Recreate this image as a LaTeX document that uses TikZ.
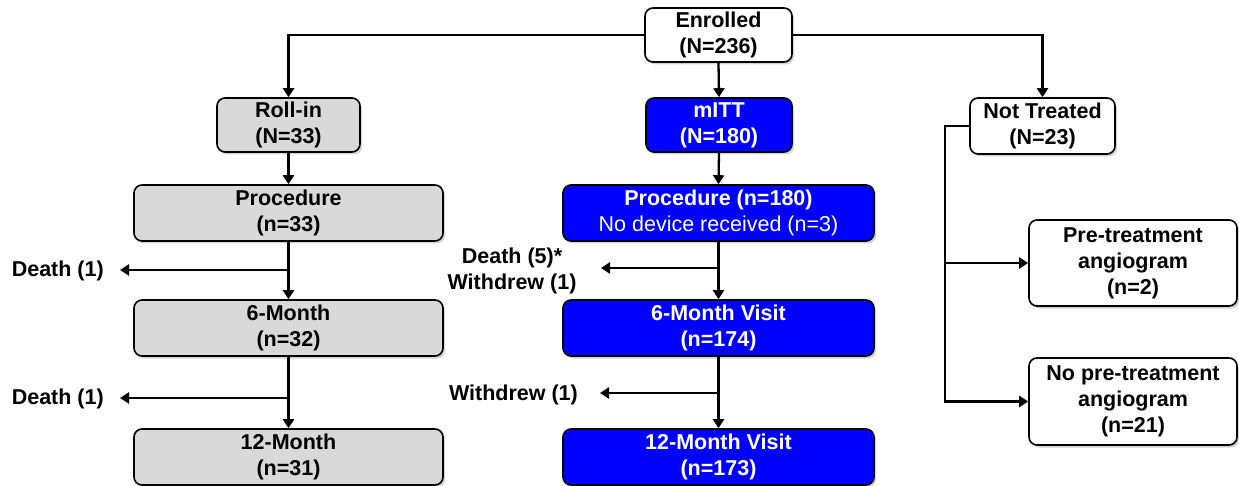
\documentclass[tikz,border=0pt]{standalone}
\usepackage{fontspec}
\setmainfont{Liberation Sans}
\usetikzlibrary{arrows.meta,shadows}
\definecolor{boxgray}{HTML}{D9D9D9}
\definecolor{boxblue}{HTML}{0000FF}
\begin{document}
\begin{tikzpicture}[x=1pt,y=-1pt,
  every node/.style={font=\fontsize{21.5}{26}\selectfont\bfseries, align=center},
  base/.style={draw=black, line width=1.6pt, rounded corners=8pt, inner sep=0pt,
    drop shadow={shadow xshift=2pt, shadow yshift=-2.5pt, opacity=0.35}},
  whitebox/.style={base, fill=white},
  graybox/.style={base, fill=boxgray},
  bluebox/.style={base, fill=boxblue, text=white},
  conn/.style={draw=black, line width=2.3pt},
  arr/.style={conn, -{Triangle[length=9pt,width=11pt]}},
  lbl/.style={inner sep=0pt}
]
\useasboundingbox (0,0) rectangle (1239,486);
% boxes
\node[whitebox, minimum width=147pt, minimum height=54pt] (enr) at (718.5,35) {Enrolled\\(N=236)};
\node[graybox, minimum width=143pt, minimum height=54pt] (roll) at (288.5,125) {Roll-in\\(N=33)};
\node[bluebox, minimum width=146pt, minimum height=54pt] (mitt) at (719,125) {mITT\\(N=180)};
\node[whitebox, minimum width=145pt, minimum height=56pt] (nt) at (1042.5,126) {Not Treated\\(N=23)};

\node[graybox, minimum width=309pt, minimum height=56pt] (procL) at (288.5,213) {Procedure\\(n=33)};
\node[bluebox, minimum width=311pt, minimum height=56pt] (procR) at (718.5,213) {Procedure (n=180)\\{\mdseries No device received (n=3)}};

\node[graybox, minimum width=309pt, minimum height=56pt] (sixL) at (288.5,328) {6-Month\\(n=32)};
\node[bluebox, minimum width=311pt, minimum height=56pt] (sixR) at (718.5,328) {6-Month Visit\\(n=174)};

\node[graybox, minimum width=309pt, minimum height=56pt] (twL) at (288.5,457) {12-Month\\(n=31)};
\node[bluebox, minimum width=311pt, minimum height=56pt] (twR) at (718.5,457) {12-Month Visit\\(n=173)};

\node[whitebox, minimum width=208pt, minimum height=86pt] (pre) at (1133,263) {Pre-treatment\\angiogram\\(n=2)};
\node[whitebox, minimum width=208pt, minimum height=87pt] (nopre) at (1133,401.5) {No pre-treatment\\angiogram\\(n=21)};

% labels
\node[lbl, anchor=east] (d1) at (104,271) {Death (1)};
\node[lbl, anchor=east] (d2) at (104,399) {Death (1)};
\node[lbl] (dw) at (512,271) {Death (5)*\\Withdrew (1)};
\node[lbl, anchor=east] (w2) at (578,395) {Withdrew (1)};

% coordinates
\coordinate (tl) at (288.5,35);
\coordinate (tr) at (1042.5,35);
\coordinate (bL1) at (288.5,270);
\coordinate (eL1) at (120,270);
\coordinate (bL2) at (288.5,398);
\coordinate (eL2) at (120,398);
\coordinate (bR1) at (718.5,268);
\coordinate (eR1) at (601,268);
\coordinate (bR2) at (718.5,393);
\coordinate (eR2) at (600,393);
\coordinate (ntc) at (945,126);
\coordinate (ntp) at (945,263);
\coordinate (ntn) at (945,401.5);

% connectors
\draw[arr] (enr.west) -- (tl) -- (roll.north);
\draw[arr] (enr.east) -- (tr) -- (nt.north);
\draw[arr] (enr.south) -- (mitt.north);
\draw[arr] (roll.south) -- (procL.north);
\draw[arr] (mitt.south) -- (procR.north);
\draw[arr] (procL.south) -- (sixL.north);
\draw[arr] (sixL.south) -- (twL.north);
\draw[arr] (procR.south) -- (sixR.north);
\draw[arr] (sixR.south) -- (twR.north);
\draw[arr] (bL1) -- (eL1);
\draw[arr] (bL2) -- (eL2);
\draw[arr] (bR1) -- (eR1);
\draw[arr] (bR2) -- (eR2);
\draw[arr] (nt.west) -- (ntc) -- (ntn) -- (nopre.west);
\draw[arr] (ntp) -- (pre.west);
\end{tikzpicture}
\end{document}
